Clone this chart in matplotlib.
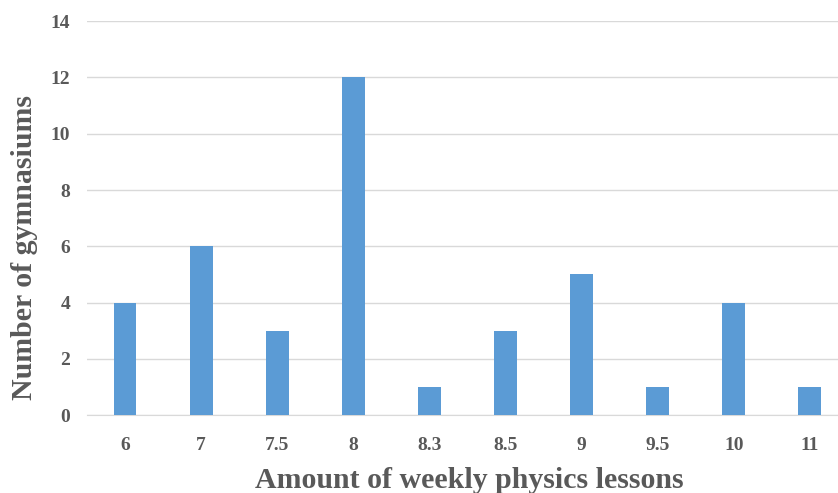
import matplotlib
matplotlib.use('Agg')
from matplotlib import pyplot as plt
import numpy as np

lessons = ["6", "7", "7.5", "8", "8.3", "8.5", "9", "9.5", "10", "11"]
gymnasiums = [4, 6, 3, 12, 1, 3, 5, 1, 4, 1]

plt.rcParams['font.family'] = ['Liberation Serif', 'DejaVu Serif']
text_color = '#595959'

fig = plt.figure(figsize=(8.38, 4.93), dpi=100, facecolor='white')
ax = fig.add_axes([0.1038, 0.158, 0.8962, 0.799])

x = np.arange(len(lessons))
ax.bar(x, gymnasiums, width=0.3, color='#5B9BD5', zorder=3)

ax.set_ylim(0, 14)
ax.set_yticks(range(0, 15, 2))
ax.set_xlim(-0.5, 9.37)
ax.set_xticks(x, lessons)

ax.grid(True, axis='y', color='#D9D9D9', linewidth=1)
ax.set_axisbelow(True)
for side in ['top', 'right', 'left']:
    ax.spines[side].set_visible(False)
ax.spines['bottom'].set_color('#D9D9D9')

ax.tick_params(axis='both', length=0, labelsize=14, labelcolor=text_color)
ax.tick_params(axis='x', pad=16)
ax.tick_params(axis='y', pad=12)
for lbl in ax.get_xticklabels() + ax.get_yticklabels():
    lbl.set_fontweight('bold')

ax.set_xlabel("Amount of weekly physics lessons", fontsize=21.5, fontweight='bold',
              color=text_color, va='center')
ax.set_ylabel("Number of gymnasiums", fontsize=21.5, fontweight='bold',
              color=text_color, va='center')
ax.xaxis.set_label_coords(0.509, -0.165)
ax.yaxis.set_label_coords(-0.083, 0.426)

fig.savefig('out.png', dpi=100)
